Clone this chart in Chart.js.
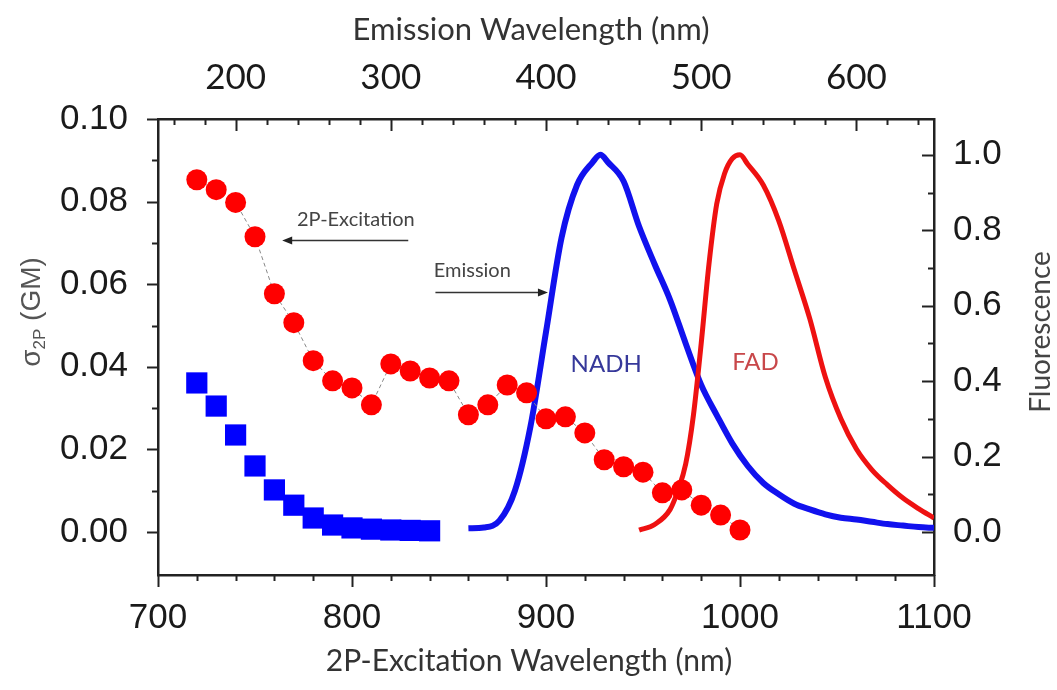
<!DOCTYPE html>
<html>
<head>
<meta charset="utf-8">
<script src="https://cdn.jsdelivr.net/npm/chart.js@4.4.0/dist/chart.umd.min.js"></script>
<style>
  html, body { margin: 0; padding: 0; background: #fff; }
  #wrap { width: 1057px; height: 690px; }
</style>
</head>
<body>
<div id="wrap"><canvas id="chart" width="1057" height="690"></canvas></div>
<script>
// two-photon cross sections, left axis vs bottom axis (excitation nm)
const fadExcitationNm = [720, 730, 740, 750, 760, 770, 780, 790, 800, 810, 820, 830, 840, 850,
  860, 870, 880, 890, 900, 910, 920, 930, 940, 950, 960, 970, 980, 990, 1000];
const fadSigma = [0.0853, 0.0829, 0.0798, 0.0715, 0.0577, 0.0507, 0.0415, 0.0366, 0.0349, 0.0308,
  0.0407, 0.0390, 0.0373, 0.0366, 0.0284, 0.0308, 0.0356, 0.0337, 0.0274, 0.0279, 0.0240,
  0.0175, 0.0158, 0.0145, 0.0095, 0.0102, 0.0065, 0.0041, 0.0005];

const nadhExcitationNm = [720, 730, 740, 750, 760, 770, 780, 790, 800, 810, 820, 830, 840];
const nadhSigma = [0.0361, 0.0305, 0.0235, 0.0160, 0.0102, 0.0065, 0.0034, 0.0017, 0.0010,
  0.0007, 0.0005, 0.0004, 0.0003];

// emission spectra, right axis vs top axis (emission nm)
const nadhEmissionNm = [350, 360, 370, 380, 390, 400, 410, 420, 430, 435, 440, 450, 460, 470,
  480, 490, 500, 510, 520, 530, 540, 550, 560, 570, 580, 590, 600, 610, 620, 630, 640, 650];
const nadhFluor = [0.01, 0.012, 0.03, 0.11, 0.28, 0.53, 0.78, 0.92, 0.98, 1.0, 0.98, 0.93, 0.81,
  0.71, 0.615, 0.50, 0.39, 0.31, 0.235, 0.175, 0.13, 0.10, 0.075, 0.06, 0.047, 0.038, 0.033,
  0.027, 0.021, 0.017, 0.013, 0.011];

const fadEmissionNm = [460, 470, 480, 485, 490, 495, 500, 505, 510, 515, 520, 525, 530, 540,
  550, 560, 570, 580, 590, 600, 610, 620, 630, 640, 650];
const fadFluor = [0.005, 0.02, 0.06, 0.11, 0.18, 0.31, 0.50, 0.71, 0.87, 0.95, 0.99, 1.0, 0.975,
  0.92, 0.825, 0.695, 0.565, 0.41, 0.30, 0.22, 0.165, 0.125, 0.09, 0.062, 0.037];

// tick labels
const bottomTicks = [700, 800, 900, 1000, 1100];
const topTicks = [200, 300, 400, 500, 600];
const leftTicks = [0.00, 0.02, 0.04, 0.06, 0.08, 0.10];
const rightTicks = [0.0, 0.2, 0.4, 0.6, 0.8, 1.0];

const pts = (xs, ys) => xs.map((x, i) => ({ x: x, y: ys[i] }));
const isMajor = (v, list) => list.some(m => Math.abs(m - v) < 1e-6);

function stepTicks(from, to, step) {
  const out = [];
  const n = Math.round((to - from) / step);
  for (let i = 0; i <= n; i++) out.push({ value: +(from + i * step).toFixed(4) });
  return out;
}

const tickFont = { family: "'Liberation Sans', Arial", size: 35 };
const calibri = "Lato, 'Open Sans', sans-serif";

// tick marks: dir 1 = outward, -1 = inward
const tickStyle = {
  x:  { majors: bottomTicks, major: 12, minor: 6, dir: 1 },
  x2: { majors: topTicks, major: 12, minor: 6, dir: -1 },
  y:  { majors: leftTicks, major: 11, minor: 6, dir: 1 },
  y2: { majors: rightTicks, major: 12, minor: 6, dir: -1 }
};

const extras = {
  id: 'extras',
  afterDraw(chart) {
    const ctx = chart.ctx;
    const a = chart.chartArea;
    const sx = chart.scales.x, sy = chart.scales.y;
    ctx.save();
    ctx.strokeStyle = '#222';
    ctx.lineWidth = 2;
    Object.keys(tickStyle).forEach(id => {
      const sc = chart.scales[id];
      const st = tickStyle[id];
      sc.ticks.forEach(t => {
        const len = (isMajor(t.value, st.majors) ? st.major : st.minor) * st.dir;
        const p = Math.round(sc.getPixelForValue(t.value)) + 0.5;
        ctx.beginPath();
        if (id === 'x') { ctx.moveTo(p, a.bottom); ctx.lineTo(p, a.bottom + len); }
        if (id === 'x2') { ctx.moveTo(p, a.top); ctx.lineTo(p, a.top - len); }
        if (id === 'y') { ctx.moveTo(a.left, p); ctx.lineTo(a.left - len, p); }
        if (id === 'y2') { ctx.moveTo(a.right, p); ctx.lineTo(a.right + len, p); }
        ctx.stroke();
      });
    });

    // annotations
    ctx.fillStyle = '#444';
    ctx.font = '20px ' + calibri;
    ctx.textAlign = 'center';
    ctx.textBaseline = 'middle';
    ctx.fillText('2P-Excitation', sx.getPixelForValue(802), sy.getPixelForValue(0.0756));
    ctx.fillText('Emission', sx.getPixelForValue(862), sy.getPixelForValue(0.0632));

    function arrow(x1, x2, y) {
      const px1 = sx.getPixelForValue(x1), px2 = sx.getPixelForValue(x2);
      const py = Math.round(sy.getPixelForValue(y)) + 0.5;
      const d = Math.sign(px2 - px1);
      ctx.strokeStyle = '#333';
      ctx.fillStyle = '#222';
      ctx.lineWidth = 1.3;
      ctx.beginPath();
      ctx.moveTo(px1, py);
      ctx.lineTo(px2 - d * 8, py);
      ctx.stroke();
      ctx.beginPath();
      ctx.moveTo(px2, py);
      ctx.lineTo(px2 - d * 10, py - 4);
      ctx.lineTo(px2 - d * 10, py + 4);
      ctx.closePath();
      ctx.fill();
    }
    arrow(829, 764, 0.0708);
    arrow(843, 901, 0.0582);

    ctx.font = '24px ' + calibri;
    ctx.fillStyle = '#36389a';
    ctx.fillText('NADH', sx.getPixelForValue(931), sy.getPixelForValue(0.0405));
    ctx.fillStyle = '#c8474a';
    ctx.fillText('FAD', sx.getPixelForValue(1008), sy.getPixelForValue(0.041));

    // horizontal axis titles
    ctx.fillStyle = '#333';
    ctx.font = '31px ' + calibri;
    ctx.fillText('Emission Wavelength (nm)', 531, 30);
    ctx.font = '30px ' + calibri;
    ctx.fillText('2P-Excitation Wavelength (nm)', 529, 661);

    // left axis title with subscript
    ctx.save();
    ctx.translate(32, 312);
    ctx.rotate(-Math.PI / 2);
    ctx.fillStyle = '#555';
    ctx.textAlign = 'left';
    ctx.textBaseline = 'middle';
    const big = "28px 'Liberation Sans', Arial";
    const small = "17px 'Liberation Sans', Arial";
    ctx.font = big; const w1 = ctx.measureText('\u03c3').width;
    ctx.font = small; const w2 = ctx.measureText('2P').width;
    ctx.font = big; const w3 = ctx.measureText(' (GM)').width;
    let cx = -(w1 + w2 + w3) / 2;
    ctx.font = big; ctx.fillText('\u03c3', cx, 0); cx += w1;
    ctx.font = small; ctx.fillText('2P', cx, 8); cx += w2;
    ctx.font = big; ctx.fillText(' (GM)', cx, 0);
    ctx.restore();

    // right axis title
    ctx.save();
    ctx.translate(1041, 332);
    ctx.rotate(-Math.PI / 2);
    ctx.fillStyle = '#444';
    ctx.font = '28px ' + calibri;
    ctx.textAlign = 'center';
    ctx.textBaseline = 'middle';
    ctx.fillText('Fluorescence', 0, 0);
    ctx.restore();

    ctx.restore();
  }
};

new Chart(document.getElementById('chart').getContext('2d'), {
  type: 'scatter',
  data: {
    datasets: [
      {
        label: 'FAD 2P',
        data: pts(fadExcitationNm, fadSigma),
        xAxisID: 'x', yAxisID: 'y',
        showLine: true,
        borderColor: '#888',
        borderWidth: 1,
        borderDash: [4, 3],
        pointStyle: 'circle',
        pointRadius: 10.5,
        pointBackgroundColor: '#ff0000',
        pointBorderWidth: 0
      },
      {
        label: 'NADH 2P',
        data: pts(nadhExcitationNm, nadhSigma),
        xAxisID: 'x', yAxisID: 'y',
        pointStyle: 'rect',
        pointRadius: 15,
        pointBackgroundColor: '#0000ff',
        pointBorderWidth: 0
      },
      {
        label: 'FAD emission',
        data: pts(fadEmissionNm, fadFluor),
        xAxisID: 'x2', yAxisID: 'y2',
        showLine: true,
        borderColor: '#ee1111',
        borderWidth: 5,
        pointRadius: 0,
        cubicInterpolationMode: 'monotone'
      },
      {
        label: 'NADH emission',
        data: pts(nadhEmissionNm, nadhFluor),
        xAxisID: 'x2', yAxisID: 'y2',
        showLine: true,
        borderColor: '#1111ee',
        borderWidth: 6,
        pointRadius: 0,
        cubicInterpolationMode: 'monotone'
      }
    ]
  },
  options: {
    responsive: false,
    animation: false,
    layout: { padding: 0 },
    plugins: {
      legend: { display: false },
      tooltip: { enabled: false }
    },
    scales: {
      x: {
        type: 'linear', position: 'bottom', min: 700, max: 1100,
        afterBuildTicks: s => { s.ticks = stepTicks(700, 1100, 20); },
        afterFit: s => { s.height = 115; },
        grid: { display: false, drawTicks: false },
        border: { display: true, color: '#222', width: 2.5 },
        ticks: {
          autoSkip: false, maxRotation: 0, padding: 22, color: '#1a1a1a', font: tickFont,
          callback: v => isMajor(v, bottomTicks) ? String(v) : ''
        }
      },
      x2: {
        type: 'linear', position: 'top', min: 150, max: 650,
        afterBuildTicks: s => { s.ticks = stepTicks(160, 640, 20); },
        afterFit: s => { s.height = 119; },
        grid: { display: false, drawTicks: false },
        border: { display: true, color: '#222', width: 2.5 },
        ticks: {
          autoSkip: false, maxRotation: 0, padding: 20, color: '#1a1a1a',
          font: { family: calibri, size: 35 },
          callback: v => isMajor(v, topTicks) ? String(v) : ''
        }
      },
      y: {
        type: 'linear', position: 'left', min: -0.0104, max: 0.10,
        afterBuildTicks: s => { s.ticks = stepTicks(0, 0.10, 0.01); },
        afterFit: s => { s.width = 158; },
        grid: { display: false, drawTicks: false },
        border: { display: true, color: '#222', width: 2.5 },
        ticks: {
          autoSkip: false, padding: 30, color: '#1a1a1a', font: tickFont,
          callback: v => isMajor(v, leftTicks) ? v.toFixed(2) : ''
        }
      },
      y2: {
        type: 'linear', position: 'right', min: -0.114, max: 1.095,
        afterBuildTicks: s => { s.ticks = stepTicks(0, 1.0, 0.1); },
        afterFit: s => { s.width = 123; },
        grid: { display: false, drawTicks: false },
        border: { display: true, color: '#222', width: 2.5 },
        ticks: {
          autoSkip: false, padding: 19, color: '#1a1a1a', font: tickFont,
          callback: v => isMajor(v, rightTicks) ? v.toFixed(1) : ''
        }
      }
    }
  },
  plugins: [extras]
});
</script>
</body>
</html>
